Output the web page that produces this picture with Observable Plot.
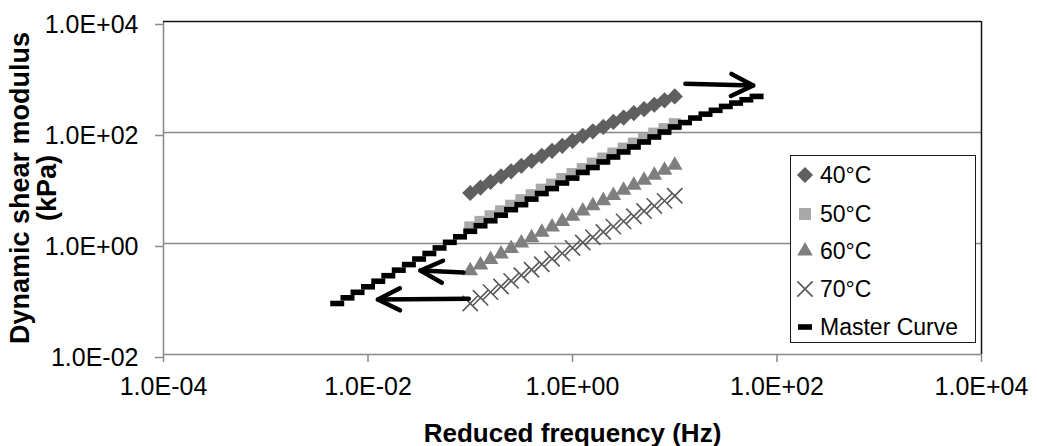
<!DOCTYPE html>
<html><head><meta charset="utf-8">
<script src="https://cdn.jsdelivr.net/npm/d3@7"></script>
<script src="https://cdn.jsdelivr.net/npm/@observablehq/plot@0.6"></script>
<style>
body{margin:0;background:#fff;}
#wrap{position:relative;width:1037px;height:446px;font-family:"Liberation Sans",Arial,sans-serif;}
#legend{position:absolute;left:790px;top:155px;width:184px;height:186px;border:1.5px solid #1a1a1a;background:#fff;}
.row{position:absolute;left:0;height:30px;display:flex;align-items:center;font-size:23px;color:#000;white-space:nowrap;}
.row svg{display:block;margin-right:2px;}
</style></head><body><div id="wrap"></div>
<script>
// test frequencies (Hz)
const freqTest = [0.1, 0.126, 0.158, 0.2, 0.251, 0.316, 0.398, 0.501, 0.631, 0.794, 1, 1.26, 1.58, 2, 2.51, 3.16, 3.98, 5.01, 6.31, 7.94, 10];
// dynamic shear modulus (kPa)
const g40 = [8.13, 10.2, 12.9, 16.2, 20.0, 25.1, 30.9, 38.0, 46.8, 57.5, 70.8, 87.1, 105, 126, 155, 186, 224, 263, 316, 380, 447];
const g50 = [1.95, 2.45, 3.09, 3.80, 4.79, 6.03, 7.41, 9.33, 11.5, 14.5, 17.8, 21.9, 27.5, 33.9, 41.7, 51.3, 63.1, 77.6, 95.5, 115, 141];
const g60 = [0.324, 0.408, 0.514, 0.646, 0.811, 1.02, 1.27, 1.59, 1.99, 2.48, 3.09, 3.85, 4.77, 5.92, 7.33, 9.07, 11.2, 13.8, 17.0, 20.9, 25.7];
const g70 = [0.0832, 0.105, 0.133, 0.168, 0.212, 0.268, 0.337, 0.423, 0.531, 0.665, 0.832, 1.04, 1.30, 1.61, 2.01, 2.50, 3.10, 3.84, 4.75, 5.87, 7.24];
// master curve
const freqMaster = [0.005, 0.0063, 0.0079, 0.01, 0.0126, 0.0158, 0.02, 0.0251, 0.0316, 0.0398, 0.0501, 0.0631, 0.0794, 0.1, 0.126, 0.158, 0.2, 0.251, 0.316, 0.398, 0.501, 0.631, 0.794, 1, 1.26, 1.58, 2, 2.51, 3.16, 3.98, 5.01, 6.31, 7.94, 10, 12.6, 15.8, 20, 25.1, 31.6, 39.8, 50.1, 63.1];
const gMaster = [0.083, 0.105, 0.132, 0.166, 0.209, 0.263, 0.331, 0.417, 0.525, 0.661, 0.832, 1.05, 1.32, 1.66, 2.09, 2.57, 3.24, 4.07, 5.01, 6.31, 7.94, 9.77, 12.3, 15.1, 19.1, 23.4, 29.5, 36.3, 44.7, 55.0, 67.6, 83.2, 102, 126, 151, 182, 214, 251, 295, 339, 389, 447];

const seriesNames = ["40°C", "50°C", "60°C", "70°C", "Master Curve"];
const xTicks = [1e-4, 1e-2, 1, 1e2, 1e4];
const xTickLabels = ["1.0E-04", "1.0E-02", "1.0E+00", "1.0E+02", "1.0E+04"];
const yTicks = [1e-2, 1, 1e2, 1e4];
const yTickLabels = ["1.0E-02", "1.0E+00", "1.0E+02", "1.0E+04"];
const xTitle = "Reduced frequency (Hz)";
const yTitleLines = ["Dynamic shear modulus", "(kPa)"];

// annotation arrows (data units)
const arrowStartF = [12.7, 0.0859, 0.0968];
const arrowStartG = [754, 0.300, 0.101];
const arrowTipF = [58.5, 0.0326, 0.0125];
const arrowTipG = [703, 0.326, 0.098];
const arrowRotate = [91.4, 273.1, 269.6];

const gray = "#898989";
const colors = ["#5f5f5f", "#a9a9a9", "#7f7f7f", "#595959", "#000000"];
const font = "'Liberation Sans', Arial, sans-serif";

const dashSymbol = {draw(ctx) { const w = 7, h = 2.8; ctx.moveTo(-w, -h); ctx.lineTo(w, -h); ctx.lineTo(w, h); ctx.lineTo(-w, h); ctx.closePath(); }};
const headShape = {draw(ctx) { const a = 22, w = 11; ctx.moveTo(-w, a); ctx.lineTo(0, 0); ctx.lineTo(w, a); }};

const rows = (gs) => freqTest.map((f, i) => ({f, g: gs[i]}));
const master = freqMaster.map((f, i) => ({f, g: gMaster[i]}));
const arrowIdx = arrowTipF.map((_, i) => i);
const symR = [7.3, 6.8, 5.8, 7, 5];

const chart = Plot.plot({
  width: 1037, height: 446,
  marginLeft: 163, marginRight: 56, marginTop: 21, marginBottom: 92,
  style: {fontFamily: font, fontSize: "25px", background: "#fff", color: "#000", overflow: "visible"},
  x: {type: "log", domain: [1e-4, 1e4]},
  y: {type: "log", domain: [1e-2, 1e4]},
  marks: [
    Plot.ruleY([1, 100], {stroke: gray, strokeWidth: 1.5}),
    Plot.ruleY([1e-2], {stroke: gray, strokeWidth: 1.5}),
    Plot.ruleX([1e-4], {stroke: gray, strokeWidth: 1.5}),
    Plot.ruleY([1e4], {stroke: "#111", strokeWidth: 1.5}),
    Plot.ruleX([1e4], {stroke: "#111", strokeWidth: 1.5}),
    Plot.axisX(xTicks, {anchor: "bottom", tickSize: 8, tickPadding: 15, stroke: gray, strokeWidth: 1.5, fill: "#000", fontSize: 25, label: null, tickFormat: d => xTickLabels[xTicks.indexOf(d)]}),
    Plot.axisY(yTicks, {anchor: "left", tickSize: 8, tickPadding: 17, stroke: gray, strokeWidth: 1.5, fill: "#000", fontSize: 25, dy: 3, label: null, tickFormat: d => yTickLabels[yTicks.indexOf(d)]}),
    Plot.text([xTitle], {frameAnchor: "bottom", textAnchor: "middle", lineAnchor: "middle", dy: 79, text: d => d, fontWeight: "bold", fontSize: 26, fill: "#000"}),
    Plot.text([yTitleLines[0]], {frameAnchor: "left", textAnchor: "middle", lineAnchor: "middle", rotate: -90, dx: -143, text: d => d, fontWeight: "bold", fontSize: 27, fill: "#000"}),
    Plot.text([yTitleLines[1]], {frameAnchor: "left", textAnchor: "middle", lineAnchor: "middle", rotate: -90, dx: -116, text: d => d, fontWeight: "bold", fontSize: 27, fill: "#000"}),
    Plot.dot(rows(g40), {x: "f", y: "g", symbol: "diamond2", r: symR[0], fill: colors[0]}),
    Plot.dot(rows(g50), {x: "f", y: "g", symbol: "square", r: symR[1], fill: colors[1]}),
    Plot.dot(rows(g60), {x: "f", y: "g", symbol: "triangle", r: symR[2], fill: colors[2]}),
    Plot.dot(rows(g70), {x: "f", y: "g", symbol: "times", r: symR[3], fill: "none", stroke: colors[3], strokeWidth: 1.6}),
    Plot.dot(master, {x: "f", y: "g", symbol: dashSymbol, r: symR[4], fill: colors[4]}),
    Plot.link(arrowIdx, {x1: i => arrowStartF[i], y1: i => arrowStartG[i], x2: i => arrowTipF[i], y2: i => arrowTipG[i], stroke: "#000", strokeWidth: 4.5, strokeLinecap: "round"}),
    Plot.vector(arrowIdx, {x: i => arrowTipF[i], y: i => arrowTipG[i], rotate: i => arrowRotate[i], length: 22, anchor: "start", shape: headShape, stroke: "#000", strokeWidth: 4.5, strokeLinecap: "round", strokeLinejoin: "round"})
  ]
});
const wrap = document.getElementById("wrap");
wrap.appendChild(chart);

// legend
const legend = document.createElement("div");
legend.id = "legend";
const symTypes = [d3.symbolDiamond2, d3.symbolSquare, d3.symbolTriangle, d3.symbolTimes, dashSymbol];
const rowTops = [4, 43, 80, 118, 156];
seriesNames.forEach((name, i) => {
  const row = document.createElement("div");
  row.className = "row";
  row.style.top = rowTops[i] + "px";
  const s = d3.create("svg").attr("width", 27).attr("height", 30);
  const p = s.append("path").attr("transform", "translate(14,15)")
    .attr("d", d3.symbol(symTypes[i], Math.PI * symR[i] * symR[i])());
  if (i === 3) p.attr("fill", "none").attr("stroke", colors[3]).attr("stroke-width", 1.6);
  else p.attr("fill", colors[i]);
  row.appendChild(s.node());
  const t = document.createElement("span");
  t.textContent = name;
  row.appendChild(t);
  legend.appendChild(row);
});
wrap.appendChild(legend);
</script></body></html>
